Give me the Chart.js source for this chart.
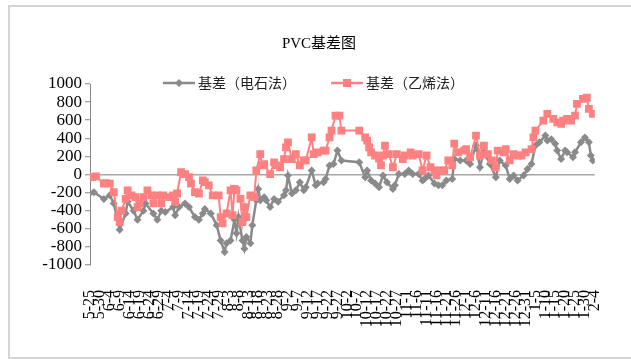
<!DOCTYPE html>
<html>
<head>
<meta charset="utf-8">
<script src="https://cdn.jsdelivr.net/npm/chart.js@4/dist/chart.umd.min.js"></script>
<style>
    body { margin: 0; background: #fff; }
    #wrap { position: relative; width: 631px; height: 359px; overflow: hidden; }
    #frame { position: absolute; left: 8px; top: 5px; width: 640px; height: 350px; border: 2px solid #d4d4d4; pointer-events: none; }
</style>
</head>
<body>
<div id="wrap">
    <canvas id="basisChart" width="631" height="359"></canvas>
    <div id="frame"></div>
</div>
<script>
// x values are days counted from 5-25
const tickLabels = ['5-25', '5-30', '6-4', '6-9', '6-14', '6-19', '6-24', '6-29', '7-4', '7-9', '7-14', '7-19',
    '7-24', '7-29', '8-3', '8-8', '8-13', '8-18', '8-23', '8-28', '9-2', '9-7', '9-12', '9-17', '9-22', '9-27',
    '10-2', '10-7', '10-12', '10-17', '10-22', '10-27', '11-1', '11-6', '11-11', '11-16', '11-21', '11-26',
    '12-1', '12-6', '12-11', '12-16', '12-21', '12-26', '12-31', '1-5', '1-10', '1-15', '1-20', '1-25', '1-30', '2-4'];

// 基差（电石法）
const carbideDays = [0, 2, 7, 10, 12, 15, 18, 19, 22, 24, 27, 28, 32, 34, 36, 38, 42, 43, 45, 48, 50, 53, 55, 57, 58,
    61, 64, 66, 68, 69, 71, 73, 74, 75, 77, 78, 79, 81, 82, 84, 85, 86, 88, 89, 91, 93, 95, 98, 99, 100, 102, 104,
    106, 108, 109, 112, 114, 115, 118, 119, 121, 123, 125, 127, 136, 139, 140, 142, 144, 146, 148, 150, 153, 154,
    156, 159, 161, 163, 166, 168, 169, 171, 174, 176, 178, 180, 183, 184, 187, 190, 192, 195, 197, 199, 200, 202,
    205, 207, 210, 212, 214, 216, 219, 221, 223, 225, 227, 230, 231, 233, 235, 236, 238, 240, 241, 244, 245, 248,
    250, 252, 253, 254];
const carbideValues = [-205, -195, -270, -230, -320, -610, -430, -300, -400, -500, -400, -320, -430, -500, -400, -415,
    -360, -450, -360, -320, -360, -470, -500, -430, -380, -430, -560, -730, -855, -760, -730, -500, -650, -470, -730,
    -820, -690, -760, -560, -285, -160, -285, -250, -285, -360, -270, -300, -230, -175, -10, -210, -175, -85, -175,
    -140, 45, -120, -100, -85, -50, 100, 115, 265, 155, 135, -30, 45, -65, -100, -140, -10, -85, -160, -120, 5, 5,
    45, 5, 5, -65, -50, -10, -100, -120, -120, -65, -50, 170, 155, 155, 115, 320, 80, 265, 210, 115, -30, 155, 100,
    -50, -10, -65, -10, 60, 115, 320, 355, 430, 375, 390, 340, 265, 170, 265, 245, 190, 245, 355, 410, 355, 210, 155];

// 基差（乙烯法）
const ethyleneDays = [1, 3, 7, 8, 10, 12, 14, 15, 16, 18, 19, 21, 23, 24, 25, 27, 29, 31, 32, 34, 36, 37, 40, 42, 43,
    44, 46, 48, 50, 51, 53, 55, 57, 58, 60, 62, 65, 66, 67, 69, 71, 72, 73, 74, 76, 77, 78, 79, 81, 83, 84, 86, 87,
    88, 91, 93, 94, 96, 98, 99, 100, 102, 104, 106, 108, 109, 112, 113, 115, 118, 119, 121, 122, 124, 126, 127, 136,
    139, 140, 141, 142, 144, 146, 147, 148, 149, 151, 153, 155, 158, 159, 162, 163, 166, 168, 170, 172, 174, 175,
    177, 179, 181, 183, 184, 186, 189, 190, 192, 195, 197, 199, 201, 203, 205, 206, 209, 210, 212, 214, 216, 218,
    220, 223, 224, 225, 229, 231, 234, 236, 238, 239, 241, 243, 245, 246, 249, 251, 252, 254];
const ethyleneValues = [-30, -20, -100, -95, -100, -195, -470, -525, -400, -270, -175, -230, -250, -360, -320, -250,
    -175, -230, -320, -230, -320, -230, -250, -230, -300, -210, 25, 5, -30, -100, -195, -210, -65, -85, -120, -230,
    -230, -470, -540, -430, -175, -450, -160, -175, -270, -525, -360, -470, -230, -250, 45, 225, 100, 115, 5, 135,
    100, 80, 170, 300, 355, 170, 225, 100, 155, 155, 410, 225, 245, 265, 265, 410, 485, 650, 650, 485, 485, 410, 375,
    300, 245, 210, 175, 100, 210, 320, 225, 80, 225, 170, 210, 245, 210, 225, 45, 210, 80, 45, -10, 45, 45, 155, 100,
    340, 245, 265, 280, 190, 430, 210, 320, 225, 155, 80, 265, 245, 280, 155, 225, 210, 210, 245, 280, 410, 485, 595,
    670, 615, 575, 560, 595, 615, 595, 650, 780, 835, 850, 725, 670];

const FONT = "'Liberation Serif', 'Noto Sans CJK SC', serif";
const GRAY = '#8a8a8a';
const PINK = '#ff8080';

function toPoints(days, values) {
    return days.map((d, i) => ({ x: d, y: values[i] }));
}

// Excel-style legend sitting on the top edge of the plot
const legendPlugin = {
    id: 'excelLegend',
    afterDraw(chart) {
        const ctx = chart.ctx;
        const y = 83;
        const items = [
            { x: 163, label: '基差（电石法）', color: GRAY, shape: 'diamond' },
            { x: 331, label: '基差（乙烯法）', color: PINK, shape: 'square' }
        ];
        ctx.save();
        items.forEach(item => {
            ctx.strokeStyle = item.color;
            ctx.fillStyle = item.color;
            ctx.lineWidth = 2.5;
            ctx.beginPath();
            ctx.moveTo(item.x, y);
            ctx.lineTo(item.x + 32, y);
            ctx.stroke();
            const cx = item.x + 16;
            ctx.beginPath();
            if (item.shape === 'diamond') {
                ctx.moveTo(cx, y - 4);
                ctx.lineTo(cx + 4, y);
                ctx.lineTo(cx, y + 4);
                ctx.lineTo(cx - 4, y);
            } else {
                ctx.rect(cx - 4, y - 4, 8, 8);
            }
            ctx.closePath();
            ctx.fill();
            ctx.fillStyle = '#222';
            ctx.font = "14px 'Noto Sans CJK SC', sans-serif";
            ctx.textBaseline = 'middle';
            ctx.textAlign = 'left';
            ctx.fillText(item.label, item.x + 35, y);
        });
        ctx.restore();
    }
};

new Chart(document.getElementById('basisChart'), {
    type: 'line',
    data: {
        datasets: [
            {
                label: '基差（电石法）',
                data: toPoints(carbideDays, carbideValues),
                borderColor: GRAY,
                borderWidth: 2.5,
                pointStyle: 'rectRot',
                pointRadius: 4,
                pointBackgroundColor: GRAY,
                pointBorderColor: GRAY,
                pointBorderWidth: 0,
                tension: 0,
                order: 1
            },
            {
                label: '基差（乙烯法）',
                data: toPoints(ethyleneDays, ethyleneValues),
                borderColor: PINK,
                borderWidth: 2,
                pointStyle: 'rect',
                pointRadius: 5.5,
                pointBackgroundColor: PINK,
                pointBorderColor: PINK,
                pointBorderWidth: 0,
                tension: 0,
                order: 0
            }
        ]
    },
    options: {
        responsive: false,
        animation: false,
        layout: { padding: { left: 42, right: 35, top: 0, bottom: 0 } },
        plugins: {
            legend: { display: false },
            tooltip: { enabled: false },
            title: {
                display: true,
                text: 'PVC基差图',
                color: '#000',
                font: { size: 15, family: FONT, weight: 'normal' },
                padding: { top: 35, bottom: 31 }
            }
        },
        scales: {
            x: {
                type: 'linear',
                min: 0,
                max: 255,
                afterFit: scale => { scale.height = 94; },
                border: { display: false },
                grid: { display: false },
                ticks: {
                    stepSize: 5,
                    autoSkip: false,
                    minRotation: 90,
                    maxRotation: 90,
                    padding: 17,
                    color: '#000',
                    font: { size: 16, family: FONT },
                    callback: v => tickLabels[Math.round(v / 5)]
                }
            },
            y: {
                min: -1000,
                max: 1000,
                afterFit: scale => { scale.width = 48; },
                border: { color: '#868686', width: 1 },
                grid: {
                    color: ctx => ctx.tick && ctx.tick.value === 0 ? '#a6a6a6' : 'rgba(0,0,0,0)',
                    lineWidth: 1.5,
                    tickColor: '#868686',
                    tickWidth: 1,
                    tickLength: 5
                },
                ticks: {
                    stepSize: 200,
                    autoSkip: false,
                    padding: 3,
                    color: '#000',
                    font: { size: 17, family: FONT },
                    callback: v => String(v)
                }
            }
        }
    },
    plugins: [legendPlugin]
});
</script>
</body>
</html>
